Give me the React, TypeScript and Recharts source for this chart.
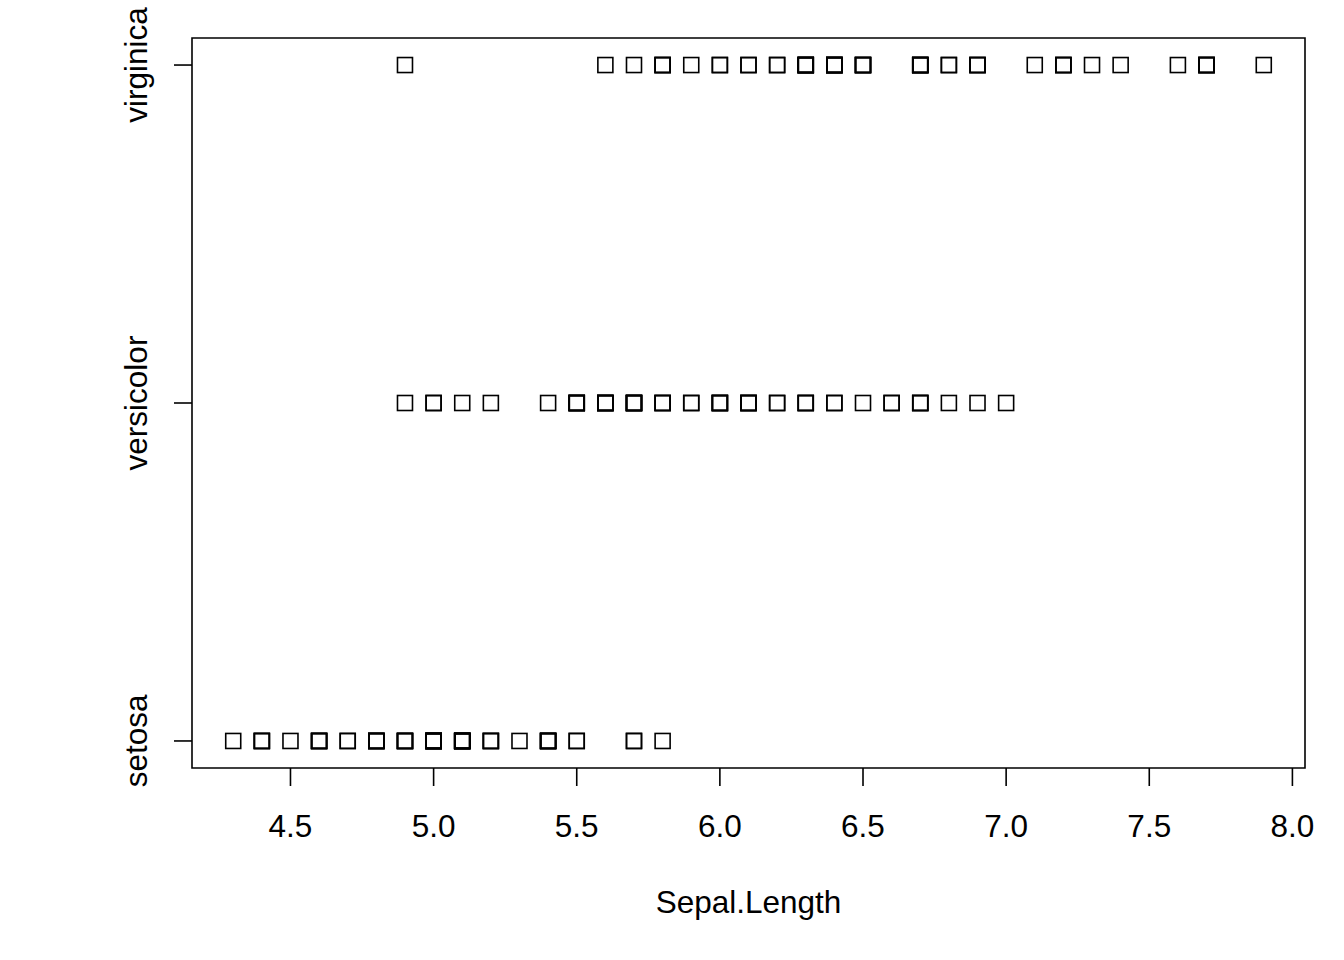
import React from 'react';
import { ScatterChart, Scatter, XAxis, YAxis, ReferenceArea, Label } from 'recharts';

const species = ['setosa', 'versicolor', 'virginica'];

const setosa = [5.1,4.9,4.7,4.6,5.0,5.4,4.6,5.0,4.4,4.9,5.4,4.8,4.8,4.3,5.8,5.7,5.4,5.1,5.7,5.1,5.4,5.1,4.6,5.1,4.8,5.0,5.0,5.2,5.2,4.7,4.8,5.4,5.2,5.5,4.9,5.0,5.5,4.9,4.4,5.1,5.0,4.5,4.4,5.0,5.1,4.8,5.1,4.6,5.3,5.0];
const versicolor = [7.0,6.4,6.9,5.5,6.5,5.7,6.3,4.9,6.6,5.2,5.0,5.9,6.0,6.1,5.6,6.7,5.6,5.8,6.2,5.6,5.9,6.1,6.3,6.1,6.4,6.6,6.8,6.7,6.0,5.7,5.5,5.5,5.8,6.0,5.4,6.0,6.7,6.3,5.6,5.5,5.5,6.1,5.8,5.0,5.6,5.7,5.7,6.2,5.1,5.7];
const virginica = [6.3,5.8,7.1,6.3,6.5,7.6,4.9,7.3,6.7,7.2,6.5,6.4,6.8,5.7,5.8,6.4,6.5,7.7,7.7,6.0,6.9,5.6,7.7,6.3,6.7,7.2,6.2,6.1,6.4,7.2,7.4,7.9,6.4,6.3,6.1,7.7,6.3,6.4,6.0,6.9,6.7,6.9,5.8,6.8,6.7,6.7,6.3,6.4,6.5,6.2,5.9];

const xTicks = [4.5, 5.0, 5.5, 6.0, 6.5, 7.0, 7.5, 8.0];
const yTicks = [1, 2, 3];

const xDomain: [number, number] = [4.156, 8.044];
const yDomain: [number, number] = [0.92, 3.08];

const FONT = '"Liberation Sans", Arial, Helvetica, sans-serif';
const FS = 31.5;

const toPoints = (vals: number[], level: number) => vals.map((v) => ({ x: v, y: level }));

const SquareShape = (props: any) => {
  const { cx, cy } = props;
  if (cx == null || cy == null) return null;
  const s = 15;
  return <rect x={cx - s / 2} y={cy - s / 2} width={s} height={s} fill="none" stroke="#000" strokeWidth={1.6} />;
};

const XTick = (props: any) => {
  const { x, y, payload } = props;
  return (
    <text x={x} y={y + 51} textAnchor="middle" fontFamily={FONT} fontSize={FS} fill="#000">
      {payload.value.toFixed(1)}
    </text>
  );
};

const YTick = (props: any) => {
  const { x, y, payload } = props;
  const tx = x - 27;
  return (
    <text x={tx} y={y} transform={`rotate(-90, ${tx}, ${y})`} textAnchor="middle" fontFamily={FONT} fontSize={FS} fill="#000">
      {species[payload.value - 1]}
    </text>
  );
};

const XTitle = (props: any) => {
  const vb = props.viewBox || {};
  return (
    <text x={vb.x + vb.width / 2} y={vb.y + 145} textAnchor="middle" fontFamily={FONT} fontSize={FS} fill="#000">
      Sepal.Length
    </text>
  );
};

export default function App() {
  return (
    <div style={{ position: 'absolute', left: 0, top: 0, width: 1344, height: 960, background: '#fff' }}>
      <ScatterChart width={1344} height={960} margin={{ top: 38, right: 39, left: 0, bottom: 0 }}>
        <XAxis
          type="number"
          dataKey="x"
          domain={xDomain}
          ticks={xTicks}
          allowDataOverflow
          height={192}
          tickSize={18}
          tickMargin={0}
          axisLine={false}
          tickLine={{ stroke: '#000', strokeWidth: 1.6 }}
          tick={<XTick />}
          interval={0}
        >
          <Label content={<XTitle />} />
        </XAxis>
        <YAxis
          type="number"
          dataKey="y"
          domain={yDomain}
          ticks={yTicks}
          allowDataOverflow
          width={192}
          tickSize={18}
          tickMargin={0}
          axisLine={false}
          tickLine={{ stroke: '#000', strokeWidth: 1.6 }}
          tick={<YTick />}
          interval={0}
        />
        <ReferenceArea x1={xDomain[0]} x2={xDomain[1]} y1={yDomain[0]} y2={yDomain[1]} fill="none" fillOpacity={0} stroke="#000" strokeWidth={1.6} strokeOpacity={1} ifOverflow="visible" />
        <Scatter data={toPoints(setosa, 1)} shape={<SquareShape />} isAnimationActive={false} />
        <Scatter data={toPoints(versicolor, 2)} shape={<SquareShape />} isAnimationActive={false} />
        <Scatter data={toPoints(virginica, 3)} shape={<SquareShape />} isAnimationActive={false} />
      </ScatterChart>
    </div>
  );
}
